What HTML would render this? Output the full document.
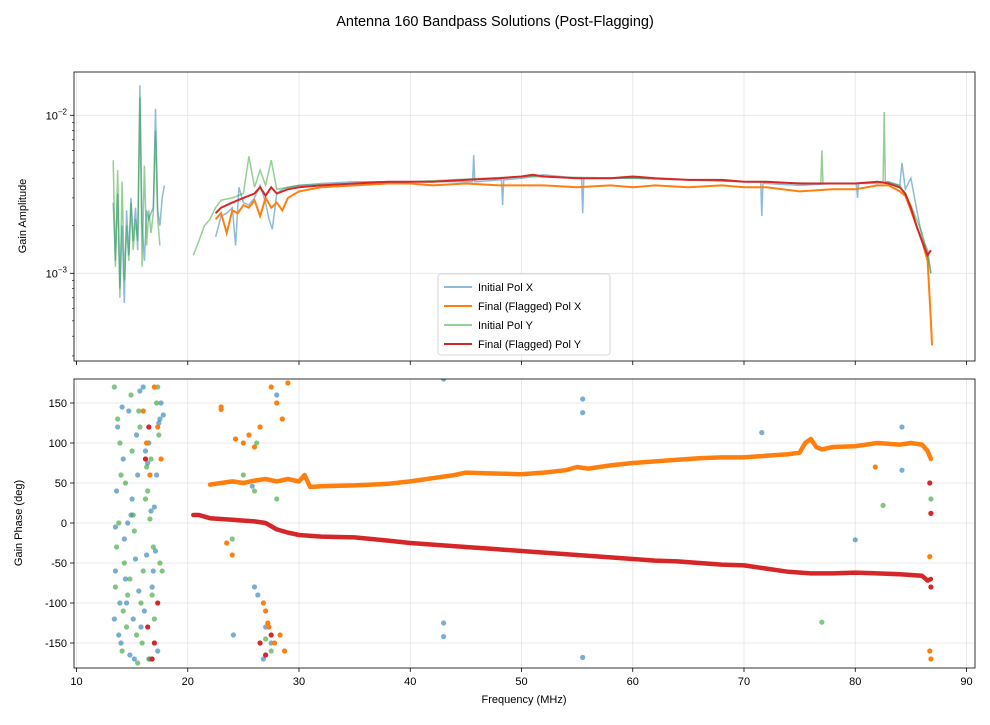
<!DOCTYPE html>
<html><head><meta charset="utf-8"><style>
body{margin:0;background:#fff;font-family:"Liberation Sans","DejaVu Sans",sans-serif}
svg text{font-family:"Liberation Sans","DejaVu Sans",sans-serif;fill:#000}
</style></head><body>
<svg id="fig" width="990" height="720" viewBox="0 0 990 720">
<text x="495" y="26" font-size="14.5" text-anchor="middle">Antenna 160 Bandpass Solutions (Post-Flagging)</text>
<g id="amp"></g>
<g id="ph"></g>
</svg>
<script>
// ---- data ----
const ampInitXFreq=[13.3,13.5,13.7,13.9,14.1,14.3,14.5,14.7,14.9,15.1,15.3,15.5,15.7,15.9,16.1,16.3,16.5,16.7,16.9,17.1,17.3,17.5,17.7,17.9,null,22.5,23,23.5,24,24.3,24.6,25,25.5,26,26.5,27,27.3,27.6,28,28.5,29,30,32,35,38,40,43,45,45.6,45.7,45.8,46,48,48.2,48.3,48.4,50,52,55,55.4,55.5,55.6,56,60,65,70,71.5,71.6,71.7,72,75,78,80,80.1,80.2,80.3,82,83,84,84.2,84.5,85,85.5,86,86.5,86.8];
const ampInitXVal=[2.8,1.2,3.2,0.8,2.0,0.65,2.5,1.3,3.0,1.6,2.6,1.4,15.5,2.0,1.2,2.5,2.2,2.4,2.6,11.0,2.5,2.0,3.0,3.6,null,1.7,2.3,2.4,2.6,1.5,3.5,2.8,2.7,3.0,3.6,2.8,2.2,1.9,3.2,3.4,3.5,3.6,3.7,3.8,3.8,3.8,3.8,3.8,3.8,5.6,3.8,3.8,3.9,3.9,2.7,3.9,4.0,4.2,4.0,4.0,2.4,4.0,4.0,4.0,3.9,3.8,3.8,2.3,3.7,3.7,3.6,3.7,3.7,3.7,3.0,3.7,3.7,3.8,3.6,5.0,3.4,4.0,2.6,1.7,1.4,1.0,1.2];
const ampFinXFreq=[22.5,23,23.5,24,24.5,25,25.5,26,26.5,27,27.5,28,28.5,29,30,32,35,38,40,42,45,48,50,52,55,58,60,62,65,68,70,72,75,78,80,82,83,84,84.5,85,85.5,86,86.5,86.8,86.9];
const ampFinXVal=[2.2,2.4,1.8,2.5,2.4,2.7,2.6,2.9,2.3,3.0,2.6,2.8,2.5,3.0,3.3,3.5,3.6,3.7,3.7,3.6,3.7,3.6,3.6,3.6,3.5,3.6,3.5,3.6,3.5,3.6,3.5,3.5,3.3,3.4,3.4,3.6,3.6,3.3,3.1,2.5,2.0,1.6,1.2,0.5,0.35];
const ampInitYFreq=[13.3,13.5,13.7,13.9,14.1,14.3,14.5,14.7,14.9,15.1,15.3,15.5,15.7,15.9,16.1,16.3,16.5,16.7,16.9,17.1,17.3,17.5,null,20.5,21,21.5,22,22.5,23,24,25,25.5,26,26.5,27,27.5,28,30,40,50,60,70,76.9,77,77.1,80,82.5,82.6,82.7,84,85,86,86.5,86.8];
const ampInitYVal=[5.2,1.1,4.5,0.7,3.8,0.9,2.0,1.2,2.8,1.4,2.2,1.6,13.0,1.1,4.8,1.5,2.5,1.8,2.4,8.0,2.2,1.5,null,1.3,1.6,2.0,2.2,2.6,2.9,3.0,3.2,5.5,3.5,4.5,3.6,5.2,3.4,3.6,3.8,4.1,4.0,3.8,3.7,6.0,3.7,3.7,3.8,10.5,3.8,3.6,2.7,1.8,1.3,1.0];
const ampFinYFreq=[22.5,23,24,25,26,26.5,27,27.5,28,29,30,32,35,38,40,42,45,48,50,51,52,55,58,60,62,65,68,70,72,75,78,80,82,83,84,84.5,85,85.5,86,86.5,86.8];
const ampFinYVal=[2.4,2.6,2.8,3.0,3.2,3.5,3.1,3.5,3.2,3.4,3.5,3.6,3.7,3.8,3.8,3.8,3.9,4.0,4.1,4.2,4.1,4.0,4.0,4.1,4.0,3.9,3.9,3.8,3.8,3.7,3.7,3.7,3.8,3.7,3.5,3.2,2.6,2.0,1.6,1.3,1.4];
// phase
const phFinXFreq=[22,23,24,25,26,27,28,29,30,30.5,31,32,35,38,40,42,44,45,47,50,52,54,55,56,58,60,62,64,66,68,70,72,74,75,75.5,76,76.5,77,78,80,82,84,85,86,86.5,86.8];
const phFinXVal=[48,50,52,50,53,55,52,55,52,60,45,46,47,49,52,56,60,63,62,61,63,66,70,68,72,75,77,79,81,82,82,84,86,88,100,105,95,92,95,96,100,98,100,98,90,80];
const phFinYFreq=[20.5,21,22,23,24,25,26,27,28,29,30,32,35,38,40,42,45,48,50,52,55,58,60,62,64,66,68,70,72,74,76,78,80,82,84,85,86,86.5,86.8];
const phFinYVal=[10,10,6,5,4,3,2,0,-8,-12,-15,-17,-18,-22,-25,-27,-30,-33,-35,-37,-40,-43,-45,-47,-48,-50,-52,-53,-57,-61,-63,-63,-62,-63,-64,-65,-66,-72,-70];
const phScatterBlueF=[13.5,13.7,14,14.2,14.5,14.7,15,15.2,15.5,15.8,16,16.3,16.5,16.8,17,17.3,17.5,13.6,14.3,15.1,16.2,16.9,17.6,13.8,14.6,15.4,16.6,17.2,43,43,43,55.5,55.5,55.5,71.6,80,84.2,84.2,25.8,26,26.3,27,27.5,28,24.1,26.8,13.4,13.9,14.4,14.9,15.3,15.7,16.1,16.4,17.1,17.8,13.5,14.1,14.8,15.6,16.7,17.4];
const phScatterBlueV=[-60,120,-150,80,-100,140,30,-170,60,-130,170,-40,100,-80,20,-160,130,40,-20,-120,90,-60,150,-140,0,110,-170,60,180,-125,-142,-168,155,138,113,-21,120,66,46,-80,-90,-130,-150,160,-140,-170,-120,-100,-70,10,-45,165,-110,75,-35,135,-5,145,-165,-85,15,125,-55,95];
const phScatterGreenF=[13.4,13.6,13.9,14.1,14.4,14.6,14.9,15.2,15.4,15.7,16,16.2,16.5,16.7,17,17.2,17.5,13.8,14.2,15,15.9,16.4,17.3,14.8,15.6,16.8,17.7,26,26.5,27,27.5,28,24,25,26.2,82.5,77,86.8,13.5,14,14.5,15.1,15.8,16.3,16.9,17.4,13.7,14.3,15.5,16.6];
const phScatterGreenV=[170,-30,100,-160,50,-90,160,-10,-140,120,-60,30,-170,80,-120,150,-50,0,-110,90,-150,40,170,-70,140,-90,-60,40,120,-145,-160,30,-20,60,100,22,-124,30,-80,60,-130,10,-100,70,-30,110,130,-50,-175,5];
const phScatterOrangeF=[16,16.3,16.6,17,17.3,17.6,23,23.5,24,24.3,25,25.5,26,26.5,27,27.3,27.5,28,28.3,28.7,29,26.8,27.2,27.8,28.5,23,86.7,86.8,86.7,81.8];
const phScatterOrangeV=[140,100,60,170,120,80,142,-25,-40,105,100,110,95,120,-110,-130,170,150,-140,-160,175,-100,-125,-150,130,145,-42,-170,-160,70];
const phScatterRedF=[16.2,16.5,16.8,17,17.3,16.4,26.5,27,27.5,86.8,86.7,86.8];
const phScatterRedV=[80,120,-170,-150,-100,-130,-150,-165,-140,12,50,-80];
const xTicks=[10,20,30,40,50,60,70,80,90];
const phTicks=[150,100,50,0,-50,-100,-150];
const ampMajor=[-2,-3];
// ---- axes ----
const L=74,R=975,T1=72,B1=361,T2=379,B2=668;
const C={bX:'#1f77b4',o:'#ff7f0e',g:'#2ca02c',r:'#d62728'};
const x=f=>76.5+(f-10)*11.125;
const yA=v=>115.3+(-2-Math.log10(v*1e-3))*158;
const yP=p=>523-p*0.8;
const NS='http://www.w3.org/2000/svg';
function mk(par,tag,at){const e=document.createElementNS(NS,tag);for(const k in at)e.setAttribute(k,at[k]);par.appendChild(e);return e;}
const amp=document.getElementById('amp'),ph=document.getElementById('ph');
function pathD(F,V,yf){let d='',pen=false;for(let i=0;i<F.length;i++){if(F[i]===null){pen=false;continue;}d+=(pen?'L':'M')+x(F[i]).toFixed(1)+','+yf(V[i]).toFixed(1);pen=true;}return d;}
for(const t of xTicks){
 for(const [g,T,B] of [[amp,T1,B1],[ph,T2,B2]]){
  const gl=mk(g,'line',{x1:x(t),x2:x(t),y1:T,y2:B,stroke:'#e3e3e3','stroke-width':0.8});
  
  mk(g,'line',{x1:x(t),x2:x(t),y1:B,y2:B+4,stroke:'#000','stroke-width':0.8});
 }
 const tl=mk(ph,'text',{x:x(t),y:B2+17,'font-size':11,'text-anchor':'middle'});tl.textContent=t;
 
}
for(const p of phTicks){
 const gl=mk(ph,'line',{x1:L,x2:R,y1:yP(p),y2:yP(p),stroke:'#e3e3e3','stroke-width':0.8});
 
 mk(ph,'line',{x1:L-4,x2:L,y1:yP(p),y2:yP(p),stroke:'#000','stroke-width':0.8});
 const tl=mk(ph,'text',{x:L-7,y:yP(p)+4,'font-size':11,'text-anchor':'end'});tl.textContent=p;
 
}
for(const e of ampMajor){
 const y=yA(Math.pow(10,e+3));
 const gl=mk(amp,'line',{x1:L,x2:R,y1:y,y2:y,stroke:'#e3e3e3','stroke-width':0.8});
 
 mk(amp,'line',{x1:L-4,x2:L,y1:y,y2:y,stroke:'#000','stroke-width':0.8});
 const tl=mk(amp,'text',{x:L-7,y:y+4,'font-size':11,'text-anchor':'end'});
 tl.innerHTML='10<tspan dy="-5" font-size="8">\u2212'+(-e)+'</tspan>';
 
 for(let m=2;m<10;m++){const v=m*Math.pow(10,e+3);const yy=yA(v);if(yy>T1&&yy<B1)mk(amp,'line',{x1:L-2,x2:L,y1:yy,y2:yy,stroke:'#000','stroke-width':0.6});}
}
for(let m=3;m<10;m++){const yy=yA(m*0.1);if(yy<B1)mk(amp,'line',{x1:L-2,x2:L,y1:yy,y2:yy,stroke:'#000','stroke-width':0.6});}
const cp1=mk(amp,'clipPath',{id:'c1'});mk(cp1,'rect',{x:L,y:T1,width:R-L,height:B1-T1});
const cp2=mk(ph,'clipPath',{id:'c2'});mk(cp2,'rect',{x:L,y:T2,width:R-L,height:B2-T2});
const s1=mk(amp,'path',{d:pathD(ampInitXFreq,ampInitXVal,yA),fill:'none',stroke:C.bX,'stroke-opacity':0.5,'stroke-width':1.5,'clip-path':'url(#c1)'});

const s2=mk(amp,'path',{d:pathD(ampFinXFreq,ampFinXVal,yA),fill:'none',stroke:C.o,'stroke-width':2,'clip-path':'url(#c1)'});

const s3=mk(amp,'path',{d:pathD(ampInitYFreq,ampInitYVal,yA),fill:'none',stroke:C.g,'stroke-opacity':0.5,'stroke-width':1.5,'clip-path':'url(#c1)'});

const s4=mk(amp,'path',{d:pathD(ampFinYFreq,ampFinYVal,yA),fill:'none',stroke:C.r,'stroke-width':2,'clip-path':'url(#c1)'});

function dots(F,V,col,op,name){for(let i=0;i<F.length;i++){const c=mk(ph,'circle',{cx:x(F[i]),cy:yP(V[i]),r:2.6,fill:col,'fill-opacity':op,'clip-path':'url(#c2)'});
 }}
dots(phScatterBlueF,phScatterBlueV,C.bX,0.6,'initial-pol-x-point');
dots(phScatterGreenF,phScatterGreenV,C.g,0.6,'initial-pol-y-point');
const p1=mk(ph,'path',{d:pathD(phFinXFreq,phFinXVal,yP),fill:'none',stroke:C.o,'stroke-width':4.5,'stroke-linejoin':'round','stroke-linecap':'round','clip-path':'url(#c2)'});

const p2=mk(ph,'path',{d:pathD(phFinYFreq,phFinYVal,yP),fill:'none',stroke:C.r,'stroke-width':4.5,'stroke-linejoin':'round','stroke-linecap':'round','clip-path':'url(#c2)'});

dots(phScatterOrangeF,phScatterOrangeV,C.o,1,'final-pol-x-point');
dots(phScatterRedF,phScatterRedV,C.r,1,'final-pol-y-point');
mk(amp,'rect',{x:L,y:T1,width:R-L,height:B1-T1,fill:'none',stroke:'#000','stroke-width':0.8});
mk(ph,'rect',{x:L,y:T2,width:R-L,height:B2-T2,fill:'none',stroke:'#000','stroke-width':0.8});
const yl1=mk(amp,'text',{x:0,y:0,'font-size':11,'text-anchor':'middle',transform:'translate(26,216) rotate(-90)'});yl1.textContent='Gain Amplitude';

const yl2=mk(ph,'text',{x:0,y:0,'font-size':11,'text-anchor':'middle',transform:'translate(22,523) rotate(-90)'});yl2.textContent='Gain Phase (deg)';

const xl=mk(ph,'text',{x:524,y:703,'font-size':11,'text-anchor':'middle'});xl.textContent='Frequency (MHz)';

const lg=mk(amp,'g',{});
mk(lg,'rect',{x:438,y:274,width:172,height:81,rx:3,fill:'#fff','fill-opacity':0.85,stroke:'#ccc','stroke-width':0.8});
const leg=[['Initial Pol X',C.bX,0.5],['Final (Flagged) Pol X',C.o,1],['Initial Pol Y',C.g,0.5],['Final (Flagged) Pol Y',C.r,1]];
leg.forEach((l,i)=>{const y=287+i*19;
 const e=mk(lg,'g',{});
 mk(e,'line',{x1:444,x2:472,y1:y,y2:y,stroke:l[1],'stroke-opacity':l[2],'stroke-width':2});
 const t=mk(e,'text',{x:478,y:y+4,'font-size':11});t.textContent=l[0];});
</script>
</body></html>
